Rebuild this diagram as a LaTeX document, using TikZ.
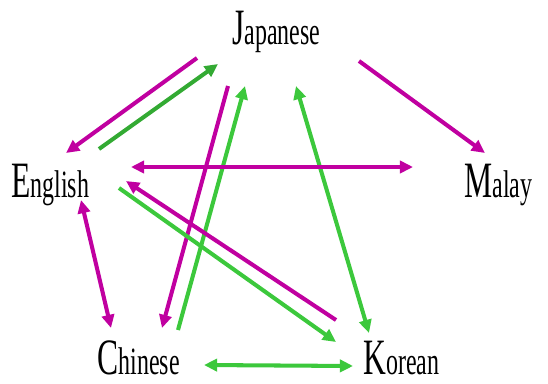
\documentclass[tikz,border=0pt]{standalone}
\usepackage{fontspec}
\setmainfont{Liberation Serif}
\usepackage{graphicx}
\usetikzlibrary{arrows.meta}

\definecolor{pk}{RGB}{192,0,160}
\definecolor{gr}{RGB}{60,200,60}

\newcommand{\langname}[2]{\scalebox{0.62}[1]{\fontsize{29}{29}\selectfont #1\fontsize{22}{22}\selectfont #2}}

\tikzset{
  lang/.style={inner sep=0pt, anchor=base west},
  arr/.style={line width=2.3pt, -{Triangle[length=7.5pt,width=7pt]}},
  darr/.style={line width=2.3pt, {Triangle[length=7.5pt,width=7pt]}-{Triangle[length=7.5pt,width=7pt]}}
}

\begin{document}
\begin{tikzpicture}[x=0.02cm,y=-0.02cm]
        \useasboundingbox (0,0) rectangle (548,383);

        \node[lang] (jp) at (232,44) {\langname{J}{apanese}};
        \node[lang] (en) at (11,197) {\langname{E}{nglish}};
        \node[lang] (ma) at (464,197) {\langname{M}{alay}};
        \node[lang] (ch) at (97,374) {\langname{C}{hinese}};
        \node[lang] (ko) at (363,374) {\langname{K}{orean}};

        % Japanese and English
        \draw[arr,pk] ([shift={(-35,14)}]jp.base west) -- ([shift={(55,-44)}]en.base west);
        \draw[arr,gr!85!black] ([shift={(88,-48)}]en.base west) -- ([shift={(-14,20)}]jp.base west);

        % Japanese and Chinese
        \draw[arr,pk] ([shift={(-4,42)}]jp.base west) -- ([shift={(65,-46)}]ch.base west);
        \draw[arr,gr] ([shift={(81,-44)}]ch.base west) -- ([shift={(13,42)}]jp.base west);

        % Japanese, Korean, Malay
        \draw[darr,gr] ([shift={(64,42)}]jp.base west) -- ([shift={(6,-41)}]ko.base west);
        \draw[arr,pk] ([shift={(127,17)}]jp.base west) -- ([shift={(21,-44)}]ma.base west);

        % English
        \draw[darr,pk] ([shift={(120,-30)}]en.base west) -- ([shift={(-51,-30)}]ma.base west);
        \draw[arr,pk] ([shift={(-27,-54)}]ko.base west) -- ([shift={(115,-16)}]en.base west);
        \draw[arr,gr] ([shift={(108,-9)}]en.base west) -- ([shift={(-27,-32)}]ko.base west);
        \draw[darr,pk] ([shift={(70,3)}]en.base west) -- ([shift={(14,-46)}]ch.base west);

        % Chinese and Korean
        \draw[darr,gr] ([shift={(107,-9)}]ch.base west) -- ([shift={(-10,-8)}]ko.base west);
    \end{tikzpicture}
\end{document}
